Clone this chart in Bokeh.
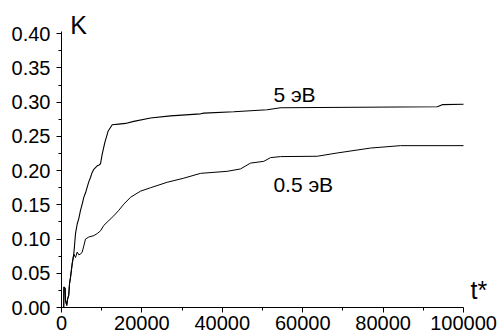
from bokeh.plotting import figure
from bokeh.models import FixedTicker, PrintfTickFormatter, Range1d
from bokeh.core.properties import value
from bokeh.embed import file_html
from bokeh.resources import INLINE

# shared initial part (both energies)
t_start = [550, 600, 900, 1000, 1300, 1500, 1800, 2000, 2240, 2660, 3060]
k_start = [0.0, 0.030, 0.028, 0.010, 0.003, 0.012, 0.018, 0.035, 0.044, 0.064, 0.078]

# 5 eV
t_5 = [3300, 3483, 3906, 4300, 4726, 5100, 5547, 6000, 6393, 6800, 7214, 7600, 8035,
       8881, 9300, 9702, 10124, 10771, 11617, 12612, 14254, 15920, 17986, 22139,
       27114, 34577, 35398, 42861, 51169, 54478, 93460, 94700, 100000]
k_5 = [0.095, 0.108, 0.122, 0.130, 0.142, 0.150, 0.161, 0.168, 0.176, 0.184, 0.190,
       0.197, 0.202, 0.207, 0.208, 0.210, 0.224, 0.241, 0.258, 0.267, 0.268, 0.269,
       0.272, 0.277, 0.280, 0.283, 0.284, 0.286, 0.289, 0.292, 0.2934, 0.2964, 0.297]

# 0.5 eV
t_05 = [3483, 3906, 4300, 4726, 5150, 5547, 5970, 6791, 8035, 8881, 9702, 10522,
        11766, 13011, 14254, 15498, 17164, 19652, 22139, 26293, 30423, 34577, 41219,
        44527, 47015, 50322, 51990, 54478, 63600, 68580, 76870, 84330, 100000]
k_05 = [0.073, 0.081, 0.077, 0.078, 0.081, 0.090, 0.100, 0.103, 0.105, 0.108, 0.112,
        0.120, 0.127, 0.134, 0.142, 0.151, 0.161, 0.170, 0.175, 0.183, 0.189, 0.196,
        0.199, 0.2025, 0.211, 0.2136, 0.219, 0.2205, 0.221, 0.2258, 0.233, 0.2365, 0.2365]

x_ticks = [0, 20000, 40000, 60000, 80000, 100000]
x_minor = [10000, 30000, 50000, 70000, 90000]
y_ticks = [0.00, 0.05, 0.10, 0.15, 0.20, 0.25, 0.30, 0.35, 0.40]
y_minor = [0.025, 0.075, 0.125, 0.175, 0.225, 0.275, 0.325, 0.375]

series_labels = ["5 эВ", "0.5 эВ"]
label_t = [52700, 52700]
label_k = [0.311, 0.180]

axis_names = ["K", "t*"]
axis_name_t = [2200, 101740]
axis_name_k = [0.413, 0.025]

FONT = "Liberation Sans"

p = figure(width=498, height=333, output_backend="svg", toolbar_location=None,
           x_range=Range1d(0, 107700), y_range=Range1d(0, 0.434),
           min_border_left=61, min_border_right=4, min_border_top=10, min_border_bottom=26)
p.background_fill_color = "white"
p.border_fill_color = "white"
p.outline_line_color = None
p.xgrid.visible = False
p.ygrid.visible = False

p.line(t_start + t_5, k_start + k_5, line_color="black", line_width=1.1)
p.line(t_start + t_05, k_start + k_05, line_color="black", line_width=1.0)

p.text(x=label_t, y=label_k, text=series_labels, text_font=value(FONT),
       text_font_size="21px", text_color="black", text_baseline="alphabetic",
       text_align="left")
p.text(x=axis_name_t, y=axis_name_k, text=axis_names, text_font=value(FONT),
       text_font_size="25px", text_color="black", text_baseline="alphabetic",
       text_align="left")

for ax in (p.xaxis[0], p.yaxis[0]):
    ax.axis_line_color = "black"
    ax.axis_line_width = 1
    ax.major_tick_line_color = "black"
    ax.minor_tick_line_color = "black"
    ax.major_tick_out = 5
    ax.major_tick_in = 0
    ax.minor_tick_out = 3
    ax.minor_tick_in = 0
    ax.major_label_text_font = FONT
    ax.major_label_text_font_size = "20px"
    ax.major_label_text_color = "black"

p.xaxis[0].ticker = FixedTicker(ticks=x_ticks, minor_ticks=x_minor)
p.xaxis[0].formatter = PrintfTickFormatter(format="%d")
p.xaxis[0].major_label_standoff = 3
p.xaxis[0].bounds = (0, 100000)
p.yaxis[0].ticker = FixedTicker(ticks=y_ticks, minor_ticks=y_minor)
p.yaxis[0].formatter = PrintfTickFormatter(format="%.2f")
p.yaxis[0].major_label_standoff = 6
p.yaxis[0].bounds = (0, 0.404)

open("out.html", "w").write(file_html(p, INLINE))
